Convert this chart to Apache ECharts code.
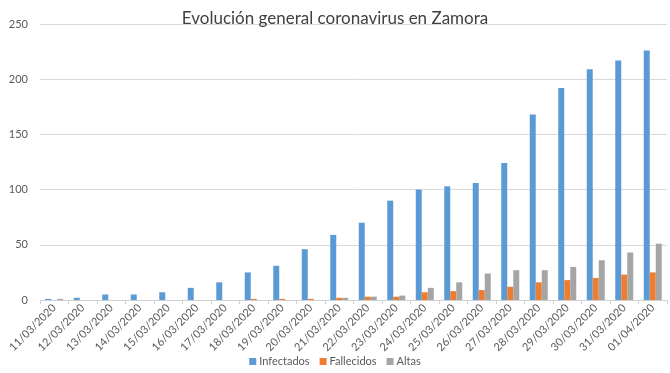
<!DOCTYPE html>
<html>
<head>
<meta charset="utf-8">
<script src="https://cdn.jsdelivr.net/npm/echarts@6/dist/echarts.min.js"></script>
<style>html,body{margin:0;padding:0;background:#fff}#c{width:670px;height:373px}</style>
</head>
<body>
<div id="c"></div>
<script>
const categories = ["11/03/2020","12/03/2020","13/03/2020","14/03/2020","15/03/2020","16/03/2020","17/03/2020","18/03/2020","19/03/2020","20/03/2020","21/03/2020","22/03/2020","23/03/2020","24/03/2020","25/03/2020","26/03/2020","27/03/2020","28/03/2020","29/03/2020","30/03/2020","31/03/2020","01/04/2020"];
const infectados = [1,2,5,5,7,11,16,25,31,46,59,70,90,100,103,106,124,168,192,209,217,226];
const fallecidos = [0,0,0,0,0,0,0,1,1,1,2,3,3,7,8,9,12,16,18,20,23,25];
const altas = [1,0,0,0,0,0,0,0,0,0,2,3,4,11,16,24,27,27,30,36,43,51];
const yTicks = [0,50,100,150,200,250];

const chart = echarts.init(document.getElementById('c'));
const font = 'Lato, "Open Sans", sans-serif';
chart.setOption({
  animation: false,
  title: {
    text: 'Evolución general coronavirus en Zamora',
    left: 'center', top: 5,
    textStyle: {fontFamily: font, fontSize: 17, fontWeight: 'normal', color: '#404040'}
  },
  legend: {
    bottom: 1, left: 'center',
    itemWidth: 7, itemHeight: 7, itemGap: 10,
    icon: 'rect',
    textStyle: {fontFamily: font, fontSize: 11, color: '#595959', padding: [0, 0, 0, -2]},
    data: ['Infectados','Fallecidos','Altas']
  },
  grid: {left: 40, right: 3, top: 24, bottom: 73, containLabel: false},
  xAxis: {
    type: 'category', data: categories,
    axisLine: {lineStyle: {color: '#d0d0d0'}},
    axisTick: {show: true, alignWithLabel: false, length: 4, lineStyle: {color: '#d0d0d0'}},
    axisLabel: {rotate: 45, interval: 0, fontFamily: font, fontSize: 11, color: '#595959', margin: 6}
  },
  yAxis: {
    type: 'value', min: yTicks[0], max: yTicks[yTicks.length-1], interval: 50,
    axisLine: {show: false}, axisTick: {show: false},
    axisLabel: {fontFamily: font, fontSize: 11, color: '#595959', margin: 12},
    splitLine: {lineStyle: {color: '#d9d9d9'}}
  },
  series: [
    {name: 'Infectados', type: 'bar', data: infectados, barWidth: 6, barGap: '0%', itemStyle: {color: '#5b9bd5'}},
    {name: 'Fallecidos', type: 'bar', data: fallecidos, barWidth: 6, barGap: '0%', itemStyle: {color: '#ed7d31'}},
    {name: 'Altas', type: 'bar', data: altas, barWidth: 6, barGap: '0%', itemStyle: {color: '#a5a5a5'}}
  ]
});
</script>
</body>
</html>
